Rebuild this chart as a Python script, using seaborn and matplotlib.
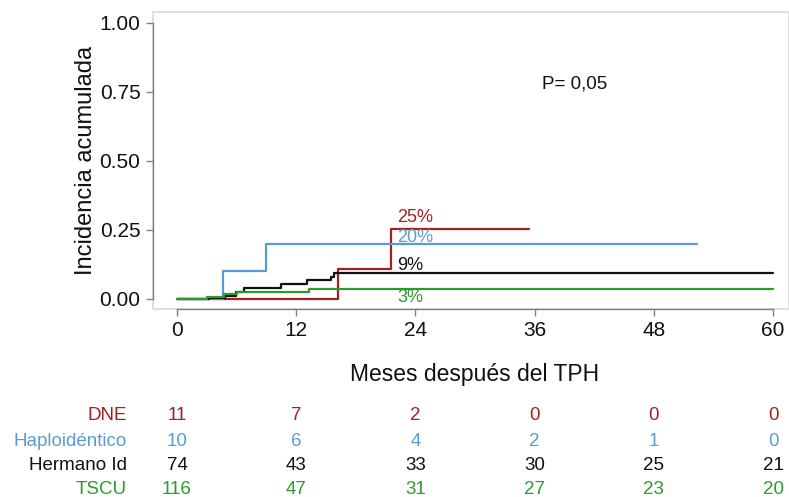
import matplotlib
matplotlib.use("Agg")
import matplotlib.pyplot as plt
import matplotlib.transforms as mtransforms
from matplotlib.patches import Rectangle
import seaborn as sns
import pandas as pd

# ---- data ----
groups = ["DNE", "Haploidéntico", "Hermano Id", "TSCU"]
colors = ["#A3201F", "#5B9BD5", "#111111", "#2E9A2E"]

dne_t = [0, 16.2, 21.5, 35.4]
dne_y = [0, 0.109, 0.255, 0.255]
haplo_t = [0, 4.6, 9.0, 52.3]
haplo_y = [0, 0.10, 0.20, 0.20]
hermano_t = [0, 3.2, 4.8, 5.9, 6.7, 10.5, 13.1, 15.5, 15.8, 60]
hermano_y = [0, 0.004, 0.011, 0.025, 0.039, 0.053, 0.069, 0.078, 0.094, 0.094]
tscu_t = [0, 3.0, 4.7, 6.0, 13.3, 60]
tscu_y = [0, 0.007, 0.018, 0.026, 0.035, 0.035]

final_labels = ["25%", "20%", "9%", "3%"]
label_y = [0.297, 0.221, 0.123, 0.004]

risk_times = [0, 12, 24, 36, 48, 60]
risk_dne = [11, 7, 2, 0, 0, 0]
risk_haplo = [10, 6, 4, 2, 1, 0]
risk_hermano = [74, 43, 33, 30, 25, 21]
risk_tscu = [116, 47, 31, 27, 23, 20]

x_ticks = [0, 12, 24, 36, 48, 60]
y_ticks = [0.0, 0.25, 0.5, 0.75, 1.0]
p_text = "P= 0,05"

# ---- build table ----
series_t = [dne_t, haplo_t, hermano_t, tscu_t]
series_y = [dne_y, haplo_y, hermano_y, tscu_y]
rows = []
for g, ts, ys in zip(groups, series_t, series_y):
    for t, y in zip(ts, ys):
        rows.append({"grupo": g, "t": t, "ci": y})
df = pd.DataFrame(rows)

sns.set_theme(style="white")
plt.rcParams["font.family"] = ["Liberation Sans", "DejaVu Sans"]

fig = plt.figure(figsize=(7.89, 4.97), dpi=100)
ax = fig.add_axes([0.1939, 0.3783, 0.806, 0.5976])

sns.lineplot(data=df, x="t", y="ci", hue="grupo", hue_order=groups,
             palette=colors, drawstyle="steps-post", estimator=None,
             linewidth=1.6, legend=False, ax=ax)

ax.set_xlim(-2.42, 61.6)
ax.set_ylim(-0.0362, 1.0399)

# frame
for s in ax.spines.values():
    s.set_visible(False)
ax.add_patch(Rectangle((0, 0), 1, 1, transform=ax.transAxes, fill=False,
                       edgecolor="#d9d9d9", linewidth=1.2, zorder=0, clip_on=False))
ax.spines["left"].set_visible(True)
ax.spines["left"].set_bounds(0, 1)
ax.spines["left"].set_color("#808080")
ax.spines["left"].set_linewidth(1.0)
ax.spines["bottom"].set_visible(True)
ax.spines["bottom"].set_bounds(0, 60)
ax.spines["bottom"].set_color("#808080")
ax.spines["bottom"].set_linewidth(1.0)

ax.set_xticks(x_ticks)
ax.set_xticklabels([str(v) for v in x_ticks])
ax.set_yticks(y_ticks)
ax.set_yticklabels([f"{v:.2f}" for v in y_ticks])
ax.tick_params(axis="both", which="both", direction="out", length=5, width=1,
               color="#808080", labelsize=15, labelcolor="#111111", pad=4,
               bottom=True, left=True)
ax.set_xlabel("")
ax.set_ylabel("Incidencia acumulada", fontsize=17, color="#111111", labelpad=2)

# end labels
for lab, ly, c in zip(final_labels, label_y, colors):
    ax.text(22.2, ly, lab, color=c, fontsize=13, ha="left", va="center")

ax.text(40, 0.78, p_text, fontsize=13.5, color="#111111",
        ha="center", va="center")

fig.text(475 / 789, 1 - 375 / 497, "Meses después del TPH", fontsize=16.5,
         color="#111111", ha="center", va="center")

# risk table
trans = mtransforms.blended_transform_factory(ax.transData, fig.transFigure)
risk_rows = [risk_dne, risk_haplo, risk_hermano, risk_tscu]
row_y = [416, 441, 466, 490]
for g, vals, c, yp in zip(groups, risk_rows, colors, row_y):
    yf = 1 - yp / 497
    fig.text(127 / 789, yf, g, color=c, fontsize=13.5, ha="right", va="center")
    for t, v in zip(risk_times, vals):
        ax.text(t, yf, str(v), color=c, fontsize=13.5, ha="center", va="center",
                transform=trans, clip_on=False)

fig.savefig("out.png", dpi=100)
